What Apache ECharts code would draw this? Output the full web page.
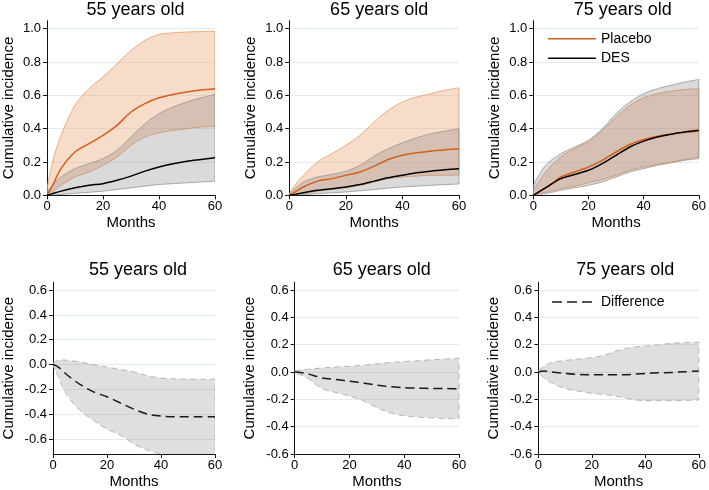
<!DOCTYPE html>
<html><head><meta charset="utf-8">
<script src="https://cdn.jsdelivr.net/npm/echarts@6/dist/echarts.min.js"></script>
<style>html,body{margin:0;padding:0;background:#fff}#c{width:709px;height:490px}</style>
</head><body><div id="c"></div>
<script>
// ---------------- data ----------------
const months = [0, 2, 5, 10, 15, 20, 25, 30, 35, 40, 45, 50, 55, 60];
const titles = ['55 years old', '65 years old', '75 years old'];
const topTicks = [0, 0.2, 0.4, 0.6, 0.8, 1.0];
const diffTicks = [-0.6, -0.4, -0.2, 0, 0.2, 0.4, 0.6];
const xTicks = [0, 20, 40, 60];

// 55 years
const placebo55   = [0, 0.06, 0.16, 0.26, 0.31, 0.36, 0.42, 0.50, 0.55, 0.585, 0.605, 0.62, 0.632, 0.64];
const placebo55Up = [0.04, 0.20, 0.36, 0.54, 0.64, 0.71, 0.79, 0.87, 0.93, 0.965, 0.975, 0.98, 0.983, 0.985];
const placebo55Lo = [0, 0.02, 0.06, 0.11, 0.14, 0.18, 0.23, 0.30, 0.35, 0.375, 0.39, 0.40, 0.41, 0.415];
const des55   = [0, 0.01, 0.025, 0.045, 0.06, 0.07, 0.09, 0.115, 0.145, 0.17, 0.19, 0.205, 0.215, 0.225];
const des55Up = [0.02, 0.06, 0.11, 0.16, 0.19, 0.22, 0.27, 0.35, 0.43, 0.49, 0.53, 0.56, 0.585, 0.605];
const des55Lo = [0, 0.002, 0.005, 0.012, 0.018, 0.025, 0.035, 0.045, 0.055, 0.065, 0.07, 0.075, 0.08, 0.085];
// 65 years
const placebo65   = [0, 0.02, 0.05, 0.085, 0.10, 0.12, 0.14, 0.175, 0.215, 0.24, 0.255, 0.265, 0.273, 0.28];
const placebo65Up = [0.01, 0.06, 0.12, 0.20, 0.25, 0.30, 0.36, 0.44, 0.51, 0.56, 0.59, 0.61, 0.63, 0.645];
const placebo65Lo = [0, 0.005, 0.01, 0.025, 0.035, 0.045, 0.06, 0.08, 0.10, 0.11, 0.115, 0.12, 0.12, 0.122];
const des65   = [0, 0.005, 0.015, 0.03, 0.04, 0.05, 0.065, 0.085, 0.105, 0.12, 0.135, 0.145, 0.153, 0.16];
const des65Up = [0.01, 0.04, 0.08, 0.11, 0.125, 0.145, 0.18, 0.235, 0.28, 0.315, 0.345, 0.37, 0.385, 0.40];
const des65Lo = [0, 0.001, 0.004, 0.01, 0.015, 0.02, 0.027, 0.035, 0.043, 0.05, 0.055, 0.06, 0.064, 0.068];
// 75 years
const placebo75   = [0, 0.02, 0.05, 0.11, 0.14, 0.17, 0.21, 0.26, 0.305, 0.335, 0.355, 0.368, 0.378, 0.385];
const placebo75Up = [0.03, 0.08, 0.15, 0.23, 0.28, 0.32, 0.39, 0.47, 0.54, 0.585, 0.61, 0.625, 0.635, 0.64];
const placebo75Lo = [0, 0.01, 0.02, 0.04, 0.055, 0.075, 0.095, 0.12, 0.15, 0.17, 0.185, 0.20, 0.215, 0.23];
const des75   = [0, 0.02, 0.05, 0.10, 0.125, 0.15, 0.19, 0.24, 0.29, 0.325, 0.35, 0.367, 0.38, 0.39];
const des75Up = [0.06, 0.12, 0.19, 0.25, 0.29, 0.33, 0.40, 0.49, 0.56, 0.61, 0.64, 0.66, 0.68, 0.695];
const des75Lo = [0, 0.005, 0.012, 0.03, 0.045, 0.06, 0.08, 0.11, 0.14, 0.16, 0.18, 0.195, 0.21, 0.22];
// differences
const diff55   = [0, -0.02, -0.08, -0.16, -0.22, -0.26, -0.31, -0.36, -0.40, -0.415, -0.42, -0.42, -0.42, -0.42];
const diff55Up = [0.01, 0.035, 0.035, 0.02, 0.0, -0.02, -0.04, -0.06, -0.09, -0.11, -0.115, -0.118, -0.118, -0.118];
const diff55Lo = [-0.01, -0.10, -0.24, -0.37, -0.45, -0.52, -0.57, -0.64, -0.69, -0.72, -0.74, -0.75, -0.76, -0.76];
const diff65   = [0, -0.003, -0.015, -0.043, -0.055, -0.067, -0.08, -0.096, -0.108, -0.115, -0.118, -0.12, -0.121, -0.122];
const diff65Up = [0.005, 0.015, 0.02, 0.03, 0.037, 0.043, 0.05, 0.06, 0.07, 0.077, 0.083, 0.09, 0.095, 0.10];
const diff65Lo = [-0.005, -0.02, -0.05, -0.12, -0.15, -0.175, -0.21, -0.26, -0.30, -0.32, -0.33, -0.335, -0.34, -0.342];
const diff75   = [0, 0.008, 0.0, -0.01, -0.017, -0.02, -0.02, -0.02, -0.017, -0.01, -0.006, -0.003, 0.003, 0.008];
const diff75Up = [0.01, 0.04, 0.07, 0.085, 0.095, 0.105, 0.125, 0.16, 0.18, 0.19, 0.20, 0.21, 0.215, 0.22];
const diff75Lo = [-0.005, -0.04, -0.08, -0.12, -0.14, -0.155, -0.165, -0.18, -0.20, -0.21, -0.21, -0.21, -0.208, -0.205];

// ---------------- styling / layout ----------------
const FONT = 'Liberation Sans, Arial, Helvetica, sans-serif';
const C_PLA = '#d45f1a', C_PLA_FILL = 'rgba(233,150,95,0.33)', C_PLA_EDGE = 'rgba(236,165,115,0.9)';
const C_DES = '#000000', C_DES_FILL = 'rgba(120,120,120,0.27)', C_DES_EDGE = 'rgba(150,150,150,0.8)';
const C_DIF = '#1a1a1a', C_DIF_FILL = 'rgba(120,120,120,0.24)', C_DIF_EDGE = '#b5b5b5';

const grids = [
  {left: 46,    top: 20.7,  width: 169,   height: 174.6},
  {left: 289.3, top: 20.7,  width: 169.7, height: 174.6},
  {left: 533.3, top: 20.7,  width: 169,   height: 174.6},
  {left: 51,    top: 282.3, width: 164,   height: 175},
  {left: 294.7, top: 282.3, width: 164.3, height: 175.4},
  {left: 538.3, top: 282.3, width: 164,   height: 175.4}
];
const yRanges = [[0, 1.048], [0, 1.048], [0, 1.048], [-0.721, 0.663], [-0.6, 0.657], [-0.6, 0.657]];

const pairs = arr => months.map((m, i) => [m, arr[i]]);

// smooth cubic path through pixel points (Catmull-Rom -> Bezier)
function curveCmds(pts) {
  let d = '';
  const n = pts.length;
  for (let i = 0; i < n - 1; i++) {
    const p0 = pts[Math.max(i - 1, 0)], p1 = pts[i], p2 = pts[i + 1], p3 = pts[Math.min(i + 2, n - 1)];
    const t = 1 / 6;
    const c1 = [p1[0] + (p2[0] - p0[0]) * t, p1[1] + (p2[1] - p0[1]) * t];
    const c2 = [p2[0] - (p3[0] - p1[0]) * t, p2[1] - (p3[1] - p1[1]) * t];
    d += ' C' + c1[0] + ' ' + c1[1] + ' ' + c2[0] + ' ' + c2[1] + ' ' + p2[0] + ' ' + p2[1];
  }
  return d;
}

const series = [];
function band(g, lo, up, fill, edge, dashed) {
  series.push({
    type: 'custom', xAxisIndex: g, yAxisIndex: g, clip: true, silent: true, z: 1,
    data: months.map((m, i) => [m, lo[i], up[i]]),
    encode: {x: 0, y: [1, 2]},
    renderItem: (params, api) => {
      if (params.dataIndex !== 0) return null;
      const upPts = months.map((m, i) => api.coord([m, up[i]]));
      const loPts = months.map((m, i) => api.coord([m, lo[i]])).reverse();
      const d = 'M' + upPts[0][0] + ' ' + upPts[0][1] + curveCmds(upPts) +
        ' L' + loPts[0][0] + ' ' + loPts[0][1] + curveCmds(loPts) + ' Z';
      return {
        type: 'path', shape: {pathData: d},
        style: {fill, stroke: edge, lineWidth: 1, lineDash: dashed ? [6, 4] : null}
      };
    }
  });
}
function line(name, g, arr, color, dashed) {
  series.push({type: 'line', name, xAxisIndex: g, yAxisIndex: g, data: pairs(arr), symbol: 'none',
    smooth: 0.3, z: 3,
    lineStyle: {color, width: 1.5, type: dashed ? [9, 5] : 'solid'}, itemStyle: {color}});
}

const topSets = [
  [placebo55, placebo55Up, placebo55Lo, des55, des55Up, des55Lo],
  [placebo65, placebo65Up, placebo65Lo, des65, des65Up, des65Lo],
  [placebo75, placebo75Up, placebo75Lo, des75, des75Up, des75Lo]
];
topSets.forEach((s, g) => {
  band(g, s[2], s[1], C_PLA_FILL, C_PLA_EDGE, false);
  band(g, s[5], s[4], C_DES_FILL, C_DES_EDGE, false);
  line('Placebo', g, s[0], C_PLA, false);
  line('DES', g, s[3], C_DES, false);
});
const diffSets = [[diff55, diff55Up, diff55Lo], [diff65, diff65Up, diff65Lo], [diff75, diff75Up, diff75Lo]];
diffSets.forEach((s, i) => {
  const g = i + 3;
  band(g, s[2], s[1], C_DIF_FILL, C_DIF_EDGE, true);
  line('Difference', g, s[0], C_DIF, true);
});

const axisLineStyle = {color: '#111', width: 1};
const xAxes = grids.map((gr, g) => ({
  type: 'value', gridIndex: g, min: 0, max: 60,
  name: 'Months', nameLocation: 'middle', nameGap: 20,
  nameTextStyle: {fontFamily: FONT, fontSize: 15, color: '#000'},
  axisLine: {show: true, onZero: false, lineStyle: axisLineStyle},
  axisTick: {show: true, length: 4, customValues: xTicks, lineStyle: axisLineStyle},
  axisLabel: {customValues: xTicks, margin: 5, fontFamily: FONT, fontSize: 13, color: '#000'},
  splitLine: {show: false}
}));
const yAxes = grids.map((gr, g) => {
  const ticks = g < 3 ? topTicks : diffTicks;
  return {
    type: 'value', gridIndex: g, min: yRanges[g][0], max: yRanges[g][1],
    name: 'Cumulative incidence', nameLocation: 'middle', nameGap: g < 3 ? 31 : 37,
    nameTextStyle: {fontFamily: FONT, fontSize: 15, color: '#000'},
    axisLine: {show: true, onZero: false, lineStyle: axisLineStyle},
    axisTick: {show: true, length: 4, customValues: ticks, lineStyle: axisLineStyle},
    axisLabel: {customValues: ticks, margin: 6, fontFamily: FONT, fontSize: 13, color: '#000',
      formatter: v => v.toFixed(1)},
    splitLine: {show: true, lineStyle: {color: '#e2ecf0', width: 1}}
  };
});

const title = grids.map((gr, g) => ({
  text: titles[g % 3], left: gr.left + gr.width / 2, top: g < 3 ? -4 : 256, textAlign: 'center',
  textStyle: {fontFamily: FONT, fontSize: 18, fontWeight: 'normal', color: '#000'}
}));

const option = {
  animation: false,
  backgroundColor: '#fff',
  title,
  grid: grids,
  xAxis: xAxes,
  yAxis: yAxes,
  legend: [
    {data: ['Placebo', 'DES'], orient: 'vertical', left: 543, top: 25.7, icon: 'rect',
      itemWidth: 48, itemHeight: 1.5, itemGap: 3.6, itemTextGap: 11, selectedMode: false,
      textStyle: {fontFamily: FONT, fontSize: 14, color: '#000', lineHeight: 16}},
    {data: ['Difference'], orient: 'vertical', left: 547, top: 289,
      icon: 'path://M0 0h10v1.6h-10zM15 0h10v1.6h-10zM30 0h10v1.6h-10zM43.9 0h0.1v1.6h-0.1z',
      itemWidth: 44, itemHeight: 1.6, itemTextGap: 22, selectedMode: false,
      itemStyle: {color: C_DIF, opacity: 1},
      textStyle: {fontFamily: FONT, fontSize: 14, color: '#000', lineHeight: 16}}
  ],
  series
};
const chart = echarts.init(document.getElementById('c'), null, {renderer: 'canvas'});
chart.setOption(option);
</script></body></html>
